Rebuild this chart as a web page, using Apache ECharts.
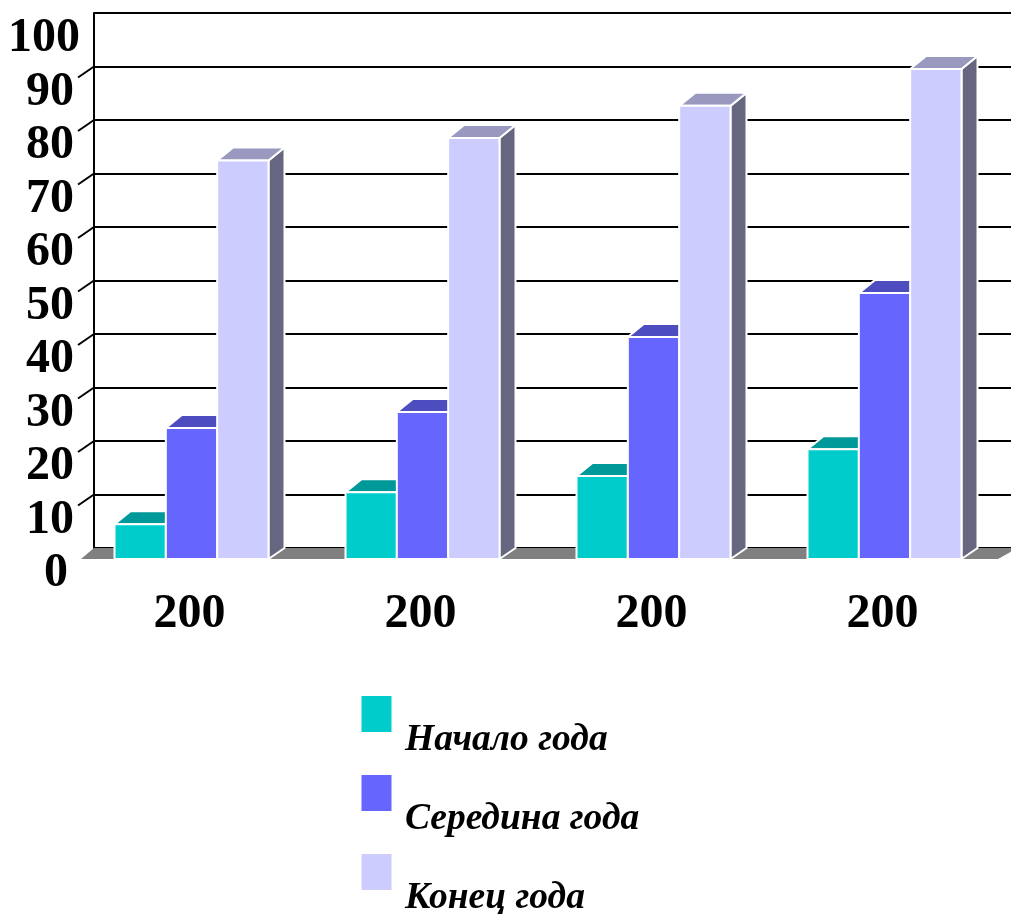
<!DOCTYPE html>
<html><head><meta charset="utf-8">
<style>html,body{margin:0;padding:0;background:#fff}#c{width:1011px;height:914px}</style>
<script src="https://cdn.jsdelivr.net/npm/echarts@6/dist/echarts.min.js"></script>
</head><body><div id="c"></div>
<script>
var categories = ['200', '200', '200', '200'];
var seriesNames = ['Начало года', 'Середина года', 'Конец года'];
var start = [6.5, 12.5, 15.5, 20.5];
var middle = [24.5, 27.5, 41.5, 49.7];
var end = [74.5, 78.7, 84.7, 91.6];
var wallTicks = [10, 20, 30, 40, 50, 60, 70, 80, 90];
var front = ['#00CCCC', '#6666FF', '#CCCCFF'];
var topFace = ['#009999', '#4D4DBF', '#9999BF'];
var sideFace = ['#006666', '#333380', '#666680'];
var DX = 16, DY = 11, TOP_DY = 13, BAR_SHIFT = 18, FONT = '"Liberation Serif","Times New Roman",serif';

var chart = echarts.init(document.getElementById('c'), null, {renderer: 'canvas'});

function barSeries(name, values, k) {
  return {
    name: name, type: 'custom', z: 5 + k, clip: false, silent: true,
    itemStyle: {color: front[k]},
    data: values.map(function (v, i) { return [i, v]; }),
    renderItem: function (params, api) {
      var base = api.coord([api.value(0), 0]);
      var topP = api.coord([api.value(0), api.value(1)]);
      var w = api.size([1, 0])[0] / 4.5;
      var x0 = base[0] - BAR_SHIFT - 1.5 * w + k * w, x1 = x0 + w;
      var yb = base[1] + DY, yt = topP[1] + DY;
      var line = {stroke: '#fff', lineWidth: 2};
      function poly(points, fill) {
        return {type: 'polygon', shape: {points: points},
          style: Object.assign({fill: fill}, line)};
      }
      return {type: 'group', children: [
        poly([[x1, yb], [x1 + DX, yb - DY], [x1 + DX, yt - TOP_DY], [x1, yt]], sideFace[k]),
        poly([[x0, yt], [x1, yt], [x1 + DX, yt - TOP_DY], [x0 + DX, yt - TOP_DY]], topFace[k]),
        poly([[x0, yb], [x1, yb], [x1, yt], [x0, yt]], front[k])
      ]};
    }
  };
}

var option = {
  animation: false,
  backgroundColor: '#fff',
  color: front,
  grid: {left: 94, top: 13, width: 924, height: 535, containLabel: false, outerBoundsMode: 'none'},
  legend: {
    data: seriesNames, orient: 'vertical', left: 361.5, top: 668.5, height: 400, padding: 0,
    itemWidth: 30, itemHeight: 36, itemGap: -12, icon: 'rect', selectedMode: false,
    formatter: function (n) { return '{t|' + n + '}'; },
    textStyle: {
      rich: {t: {fontFamily: FONT, fontSize: 37.5, fontWeight: 'bold', fontStyle: 'italic',
        color: '#000', lineHeight: 36, padding: [53, 0, 0, 8.5]}}
    }
  },
  xAxis: {
    type: 'category', data: categories,
    axisLine: {show: false}, axisTick: {show: false}, splitLine: {show: false},
    axisLabel: {interval: 0, fontFamily: FONT, fontSize: 48, fontWeight: 'bold', color: '#000',
      margin: 43, padding: [0, 40, 0, 0]}
  },
  yAxis: {
    type: 'value', min: 0, max: 100, interval: 10,
    axisLine: {show: true, lineStyle: {color: '#000', width: 2}},
    axisTick: {show: false},
    splitLine: {show: true, lineStyle: {color: '#000', width: 2}},
    axisLabel: {
      margin: 14,
      formatter: function (v) {
        return v === 100 ? '{a|' + v + '}' : v === 0 ? '{c|' + v + '}' : '{b|' + v + '}';
      },
      rich: {
        a: {fontFamily: FONT, fontSize: 48, fontWeight: 'bold', color: '#000', padding: [52, 0, 0, 0]},
        b: {fontFamily: FONT, fontSize: 48, fontWeight: 'bold', color: '#000', padding: [52, 6, 0, 0]},
        c: {fontFamily: FONT, fontSize: 48, fontWeight: 'bold', color: '#000', padding: [52, 12, 0, 0]}
      }
    }
  },
  series: [
    {
      type: 'custom', name: 'floor', z: 1, silent: true, clip: false,
      data: [[0, 0]],
      renderItem: function (params, api) {
        var cs = params.coordSys, b = cs.y + cs.height;
        return {type: 'polygon', shape: {points: [
          [cs.x, b], [cs.x + cs.width, b], [cs.x + cs.width - 20, b + DY], [cs.x - 13, b + DY]
        ]}, style: {fill: '#808080'}};
      }
    },
    {
      type: 'custom', name: 'wallTicks', z: 1, silent: true, clip: false,
      data: wallTicks.map(function (v) { return [0, v]; }),
      renderItem: function (params, api) {
        var y = api.coord([0, api.value(1)])[1], x = params.coordSys.x;
        return {type: 'line', shape: {x1: x, y1: y, x2: x - DX, y2: y + DY},
          style: {stroke: '#000', lineWidth: 2}};
      }
    },
    barSeries(seriesNames[0], start, 0),
    barSeries(seriesNames[1], middle, 1),
    barSeries(seriesNames[2], end, 2)
  ]
};
chart.setOption(option);
</script></body></html>
